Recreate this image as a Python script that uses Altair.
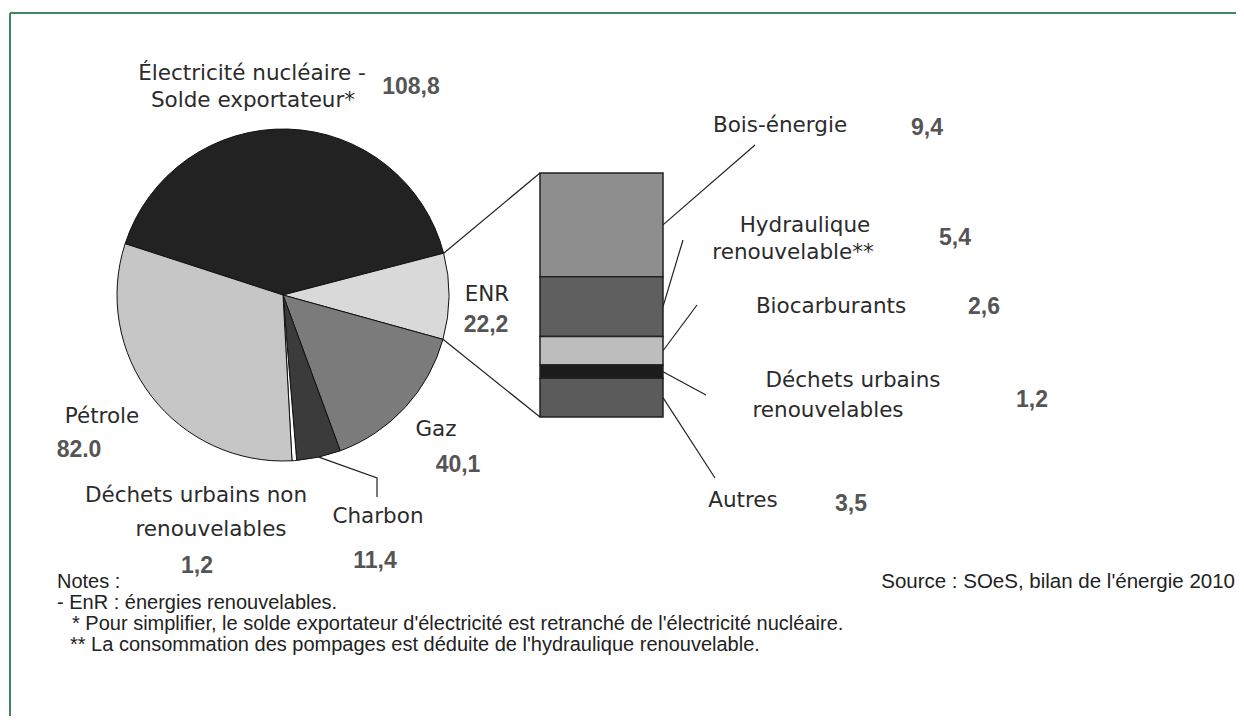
import math
import altair as alt
import pandas as pd

# ---------------- data ----------------
pie_categories = ["Électricité nucléaire - Solde exportateur*", "ENR", "Gaz", "Charbon",
                  "Déchets urbains non renouvelables", "Pétrole"]
pie_values = [108.8, 22.2, 40.1, 11.4, 1.2, 82.0]
pie_value_labels = ["108,8", "22,2", "40,1", "11,4", "1,2", "82.0"]

enr_categories = ["Bois-énergie", "Hydraulique renouvelable**", "Biocarburants",
                  "Déchets urbains renouvelables", "Autres"]
enr_values = [9.4, 5.4, 2.6, 1.2, 3.5]
enr_value_labels = ["9,4", "5,4", "2,6", "1,2", "3,5"]

notes = ["Notes :",
         "- EnR : énergies renouvelables.",
         "* Pour simplifier, le solde exportateur d'électricité est retranché de l'électricité nucléaire.",
         "** La consommation des pompages est déduite de l'hydraulique renouvelable."]
source_text = "Source : SOeS, bilan de l'énergie 2010"

# ---------------- styles ----------------
pie_colors = ["#222222", "#d9d9d9", "#7b7b7b", "#3b3b3b", "#ffffff", "#c6c6c6"]
enr_colors = ["#8e8e8e", "#5f5f5f", "#bdbdbd", "#1c1c1c", "#5b5b5b"]
LABEL_FONT = "DejaVu Sans"
VALUE_FONT = "Liberation Sans"
NOTE_FONT = "Liberation Sans"
LABEL_COLOR = "#2b2b2b"
VALUE_COLOR = "#555555"

# ---------------- layout (pixels inside the chart) ----------------
W, H = 1228, 708
CX, CY, R = 275, 287, 166
START = math.radians(288)
BAR_X0, BAR_X1, BAR_Y0, BAR_Y1 = 532, 655, 165, 409

pie_label_lines = [
    [("Électricité nucléaire -", 244, 66), ("Solde exportateur*", 245, 93)],
    [("ENR", 479, 287)],
    [("Gaz", 428, 422)],
    [("Charbon", 370, 509)],
    [("Déchets urbains non", 188, 488), ("renouvelables", 203, 522)],
    [("Pétrole", 94, 409)],
]
pie_value_pos = [(403, 79), (478, 317), (450, 457), (367, 553), (189, 558), (71, 442)]

enr_label_lines = [
    [("Bois-énergie", 772, 118)],
    [("Hydraulique", 797, 218), ("renouvelable**", 785, 245)],
    [("Biocarburants", 823, 299)],
    [("Déchets urbains", 845, 373), ("renouvelables", 820, 403)],
    [("Autres", 735, 493)],
]
enr_value_pos = [(919, 120), (947, 230), (976, 299), (1024, 392), (843, 496)]
enr_leader_end = [(747, 137), (675, 232), (689, 297), (698, 387), (707, 470)]

charbon_elbow = [(369, 470), (369, 489)]
notes_pos = [(49, 574), (49, 595), (64, 616), (62, 637)]
source_pos = (1227, 574)

# ---------------- derived tables ----------------
pie_df = pd.DataFrame({"cat": pie_categories, "value": pie_values,
                       "order": list(range(len(pie_values)))})
enr_df = pd.DataFrame({"cat": enr_categories, "value": enr_values,
                       "order": list(range(len(enr_values)))})

total = sum(pie_values)


def angle_at(cum):
    return START + 2 * math.pi * cum / total


def on_circle(theta):
    return CX + R * math.sin(theta), CY - R * math.cos(theta)


cum = [0]
for v in pie_values:
    cum.append(cum[-1] + v)

i_enr = 1
p_top = on_circle(angle_at(cum[i_enr]))
p_bot = on_circle(angle_at(cum[i_enr + 1]))

enr_total = sum(enr_values)


def bar_px(v):
    return BAR_Y0 + (BAR_Y1 - BAR_Y0) * v / enr_total


ecum = [0]
for v in enr_values:
    ecum.append(ecum[-1] + v)

rules = [
    dict(x=p_top[0], y=p_top[1], x2=BAR_X0, y2=bar_px(0)),
    dict(x=p_bot[0], y=p_bot[1], x2=BAR_X0, y2=bar_px(enr_total)),
]
for k in range(len(enr_values)):
    ymid = bar_px((ecum[k] + ecum[k + 1]) / 2)
    ex, ey = enr_leader_end[k]
    rules.append(dict(x=BAR_X1, y=ymid, x2=ex, y2=ey))
rules_df = pd.DataFrame(rules)

i_ch = 3
ch_pt = on_circle(angle_at((cum[i_ch] + cum[i_ch + 1]) / 2))
charbon_df = pd.DataFrame({
    "x": [ch_pt[0]] + [p[0] for p in charbon_elbow],
    "y": [ch_pt[1]] + [p[1] for p in charbon_elbow],
    "o": [0, 1, 2]})

border_df = pd.DataFrame([dict(x=2, y=5, x2=W, y2=5), dict(x=2, y=5, x2=2, y2=H)])

label_rows = []
for lines in pie_label_lines + enr_label_lines:
    for t, x, y in lines:
        label_rows.append(dict(t=t, x=x, y=y))
labels_df = pd.DataFrame(label_rows)

value_rows = [dict(t=t, x=p[0], y=p[1]) for t, p in zip(pie_value_labels, pie_value_pos)]
value_rows += [dict(t=t, x=p[0], y=p[1]) for t, p in zip(enr_value_labels, enr_value_pos)]
values_df = pd.DataFrame(value_rows)

notes_df = pd.DataFrame([dict(t=t, x=p[0], y=p[1]) for t, p in zip(notes, notes_pos)])
source_df = pd.DataFrame([dict(t=source_text, x=source_pos[0], y=source_pos[1])])

# ---------------- marks ----------------
PX = lambda f: alt.X(f, scale=None, axis=None)
PY = lambda f: alt.Y(f, scale=None, axis=None)

border = alt.Chart(border_df).mark_rule(color="#3b8a5e", strokeWidth=2).encode(
    x=PX("x:Q"), y=PY("y:Q"), x2="x2:Q", y2="y2:Q")

pie = alt.Chart(pie_df).mark_arc(outerRadius=R, stroke="#111111", strokeWidth=1).encode(
    theta=alt.Theta("value:Q", stack=True,
                    scale=alt.Scale(range=[START, START + 2 * math.pi])),
    color=alt.Color("cat:N", scale=alt.Scale(domain=pie_categories, range=pie_colors), legend=None),
    order=alt.Order("order:Q"),
    x=alt.value(CX), y=alt.value(CY))

bar = alt.Chart(enr_df).transform_stack(
    stack="value", groupby=[], as_=["v0", "v1"],
    sort=[alt.SortField("order", order="ascending")]
).mark_rect(stroke="#222222", strokeWidth=1.5).encode(
    y=alt.Y("v0:Q",
            scale=alt.Scale(domain=[0, enr_total], range=[BAR_Y0, BAR_Y1], nice=False, zero=True),
            axis=None),
    y2="v1:Q",
    x=alt.value(BAR_X0), x2=alt.value(BAR_X1),
    fill=alt.Fill("cat:N", scale=alt.Scale(domain=enr_categories, range=enr_colors), legend=None))

connectors = alt.Chart(rules_df).mark_rule(color="#222222", strokeWidth=1.2).encode(
    x=PX("x:Q"), y=PY("y:Q"), x2="x2:Q", y2="y2:Q")

charbon_leader = alt.Chart(charbon_df).mark_line(color="#222222", strokeWidth=1.2).encode(
    x=PX("x:Q"), y=PY("y:Q"), order="o:Q")

labels = alt.Chart(labels_df).mark_text(font=LABEL_FONT, fontSize=21.5, color=LABEL_COLOR,
                                        align="center", baseline="middle").encode(
    x=PX("x:Q"), y=PY("y:Q"), text="t:N")

values = alt.Chart(values_df).mark_text(font=VALUE_FONT, fontSize=23, fontWeight="bold",
                                        color=VALUE_COLOR, align="center", baseline="middle").encode(
    x=PX("x:Q"), y=PY("y:Q"), text="t:N")

notes_layer = alt.Chart(notes_df).mark_text(font=NOTE_FONT, fontSize=20, color="#222222",
                                            align="left", baseline="middle").encode(
    x=PX("x:Q"), y=PY("y:Q"), text="t:N")

source_layer = alt.Chart(source_df).mark_text(font=NOTE_FONT, fontSize=20.5, color="#222222",
                                              align="right", baseline="middle").encode(
    x=PX("x:Q"), y=PY("y:Q"), text="t:N")

chart = alt.layer(
    border, connectors, charbon_leader, pie, bar, labels, values, notes_layer, source_layer
).resolve_scale(
    x="independent", y="independent", color="independent", fill="independent"
).properties(
    width=W, height=H, autosize=alt.AutoSizeParams(type="none"), padding=0,
    background="white"
).configure_view(stroke=None)

chart.save("out.html", embed_options={"renderer": "svg", "actions": False})
